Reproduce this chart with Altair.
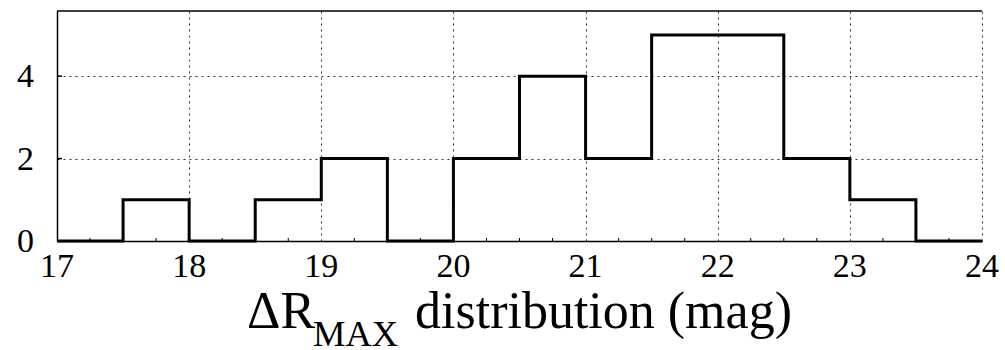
import altair as alt
import pandas as pd

# Histogram of Delta R_MAX: bin edges (mag) and counts per 0.5 mag bin
bin_left = [17.0, 17.5, 18.0, 18.5, 19.0, 19.5, 20.0, 20.5, 21.0, 21.5, 22.0, 22.5, 23.0, 23.5]
counts = [0, 1, 0, 1, 2, 0, 2, 4, 2, 5, 5, 2, 1, 0]
last_edge = 24.0

x_ticks = [17, 18, 19, 20, 21, 22, 23, 24]
y_ticks = [0, 2, 4]
minor_x = [17.25, 17.5, 17.75, 18.25, 18.5, 18.75, 19.25, 19.5, 19.75,
           20.25, 20.5, 20.75, 21.25, 21.5, 21.75, 22.25, 22.5, 22.75,
           23.25, 23.5, 23.75]
minor_y = [2, 4]

W, H = 925, 230
FONT = "Liberation Serif"

step = pd.DataFrame({"x": bin_left + [last_edge], "n": counts + [counts[-1]]})

xs = alt.Scale(domain=[17, 24], nice=False, zero=False)
ys = alt.Scale(domain=[0, 5.58], nice=False)

grid_style = dict(gridColor="#333333", gridDash=[2, 4], gridWidth=1, gridOpacity=1)

hist = alt.Chart(step).mark_line(
    interpolate="step-after", color="black", strokeWidth=3, clip=False
).encode(
    x=alt.X("x:Q", scale=xs,
            axis=alt.Axis(values=x_ticks, title=None, ticks=False, grid=True,
                          labels=False, domain=True, domainColor="black",
                          domainWidth=1.5, **grid_style)),
    y=alt.Y("n:Q", scale=ys,
            axis=alt.Axis(values=y_ticks, title=None, ticks=False, grid=True,
                          labels=False, domain=True, domainColor="black",
                          domainWidth=1.5, **grid_style)),
)

# tick labels drawn through the same scales
xlab_df = pd.DataFrame({"v": x_ticks, "s": [str(v) for v in x_ticks]})
ylab_df = pd.DataFrame({"v": y_ticks, "s": [str(v) for v in y_ticks]})

xlab = alt.Chart(xlab_df).mark_text(
    font=FONT, fontSize=34, fontWeight="normal", color="black",
    align="center", baseline="alphabetic"
).encode(x=alt.X("v:Q", scale=xs), y=alt.value(H + 36), text="s:N")

ylab = alt.Chart(ylab_df).mark_text(
    font=FONT, fontSize=34, fontWeight="normal", color="black",
    align="right", baseline="middle", dy=1
).encode(y=alt.Y("v:Q", scale=ys), x=alt.value(-23), text="s:N")

# top frame edge
top_edge = alt.Chart(pd.DataFrame({"k": [0]})).mark_rule(
    color="black", strokeWidth=1.5
).encode(x=alt.value(0), x2=alt.value(W), y=alt.value(0))

# small inward ticks along the bottom
xminor = alt.Chart(pd.DataFrame({"x": minor_x})).mark_rule(
    color="black", strokeWidth=1
).encode(x=alt.X("x:Q", scale=xs), y=alt.value(H), y2=alt.value(H - 3))

# small inward ticks along the left side
yminor = alt.Chart(pd.DataFrame({"y": minor_y})).mark_rule(
    color="black", strokeWidth=1.5
).encode(y=alt.Y("y:Q", scale=ys), x=alt.value(0), x2=alt.value(5))

# x-axis title with subscript
def label(text, px, py, size):
    return alt.Chart(pd.DataFrame({"t": [text]})).mark_text(
        font=FONT, fontSize=size, color="black", align="left", baseline="alphabetic"
    ).encode(text="t:N", x=alt.value(px), y=alt.value(py))

title_main = label("\u0394R", 190, 317, 52)
title_sub = label("MAX", 256, 335, 36.5)
title_rest = label("distribution (mag)", 358, 317, 52)

chart = alt.layer(
    hist, xminor, yminor, top_edge, xlab, ylab, title_main, title_sub, title_rest
).properties(
    width=W, height=H,
    autosize=alt.AutoSizeParams(type="none"),
    padding={"left": 57, "top": 11, "right": 23, "bottom": 109},
).configure(background="white").configure_view(stroke=None)

chart.save("out.html", embed_options={"renderer": "svg", "actions": False})
